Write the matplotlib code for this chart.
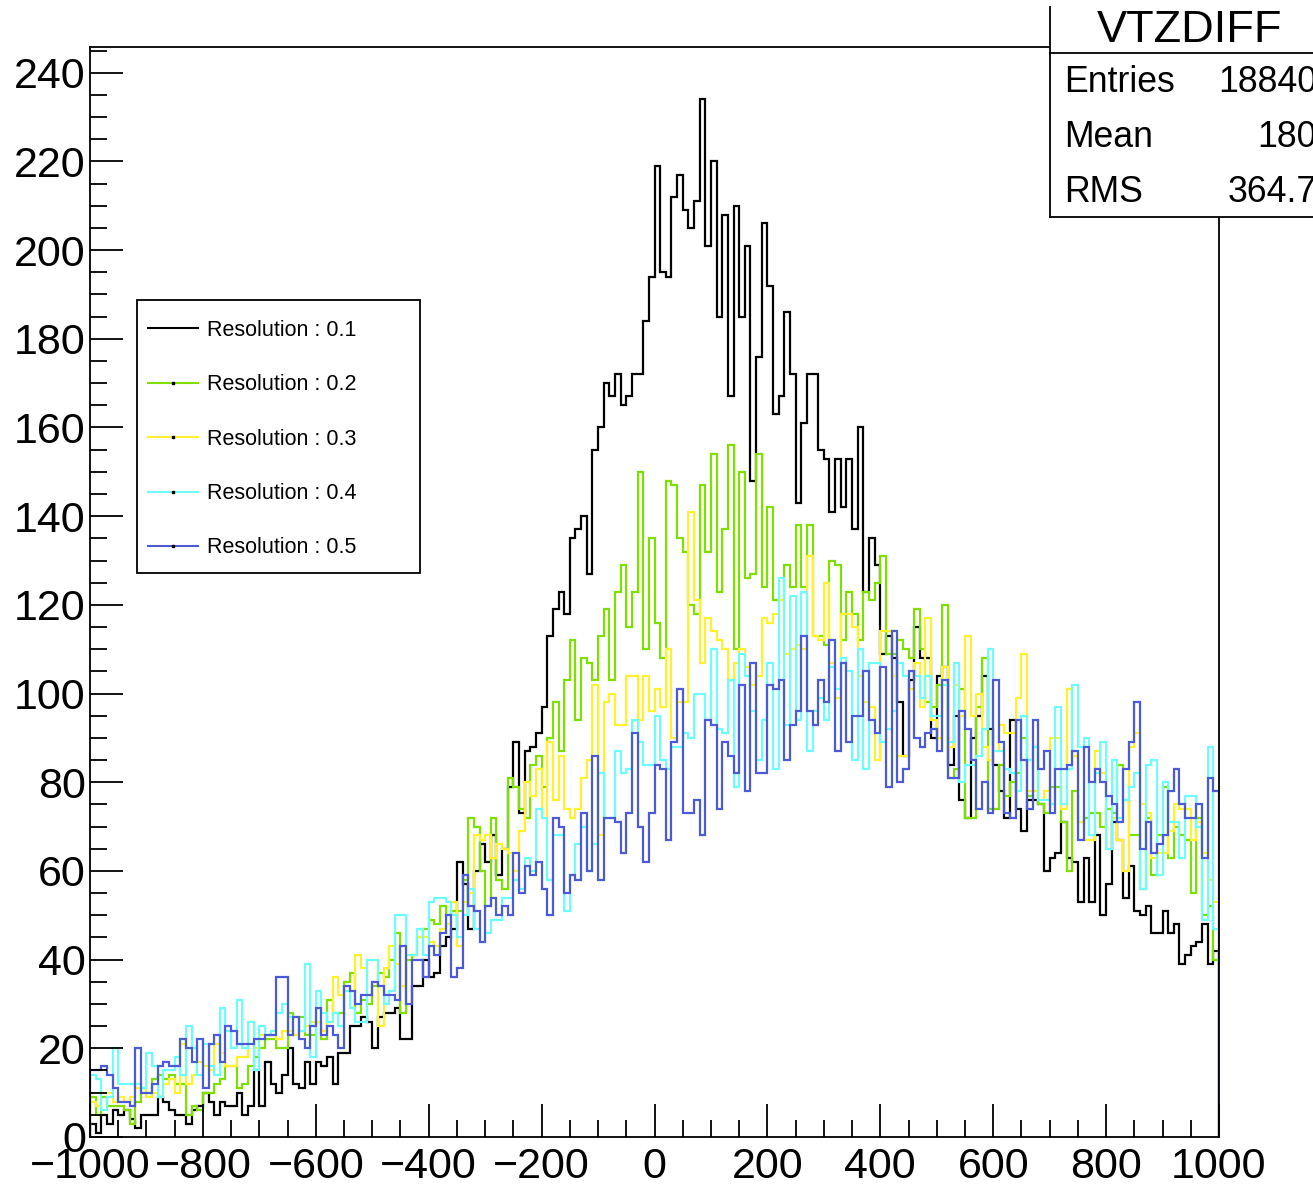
import numpy as np
import matplotlib
matplotlib.use("Agg")
import matplotlib.pyplot as plt
from matplotlib.lines import Line2D
from matplotlib.patches import Rectangle
from matplotlib.ticker import MultipleLocator

plt.rcParams['font.family'] = ['Liberation Sans', 'DejaVu Sans']

# 200 bins of VTZDIFF between -1000 and 1000
edges = np.linspace(-1000, 1000, 201)

res_01 = [3, 1, 5, 3, 6, 5, 6, 4, 2, 5,
          5, 5, 9, 8, 6, 5, 5, 3, 6, 7,
          10, 8, 5, 8, 7, 7, 10, 5, 7, 15,
          7, 17, 12, 10, 14, 20, 12, 11, 17, 12,
          17, 16, 18, 12, 19, 19, 25, 25, 27, 26,
          20, 27, 28, 28, 29, 22, 22, 34, 34, 40,
          36, 37, 43, 45, 47, 62, 57, 47, 60, 66,
          62, 68, 59, 65, 79, 89, 73, 87, 88, 91,
          97, 113, 119, 123, 118, 135, 137, 140, 127, 155,
          160, 170, 167, 172, 165, 167, 172, 172, 184, 194,
          219, 195, 194, 212, 217, 209, 205, 211, 234, 201,
          220, 185, 208, 167, 210, 185, 201, 148, 176, 206,
          192, 163, 167, 186, 172, 143, 161, 172, 172, 155,
          153, 141, 153, 142, 153, 137, 160, 123, 135, 129,
          109, 113, 108, 98, 86, 103, 115, 108, 108, 90,
          104, 106, 84, 95, 76, 72, 90, 95, 104, 92,
          84, 78, 72, 94, 74, 69, 76, 76, 75, 60,
          63, 64, 71, 63, 62, 53, 63, 53, 68, 50,
          57, 71, 67, 54, 61, 51, 50, 52, 46, 46,
          51, 46, 48, 39, 41, 43, 44, 48, 39, 42]

res_02 = [9, 5, 9, 7, 7, 7, 6, 3, 8, 11,
          10, 13, 14, 13, 14, 12, 12, 5, 7, 6,
          10, 10, 12, 13, 16, 16, 11, 12, 16, 18,
          20, 22, 22, 20, 20, 28, 23, 27, 23, 23,
          26, 22, 31, 28, 28, 35, 37, 28, 31, 30,
          34, 37, 36, 40, 46, 28, 40, 41, 45, 47,
          49, 48, 52, 50, 51, 51, 58, 72, 70, 60,
          52, 72, 58, 56, 81, 79, 74, 72, 84, 86,
          79, 90, 98, 87, 103, 112, 94, 108, 107, 103,
          113, 119, 103, 123, 129, 115, 123, 150, 110, 135,
          116, 108, 148, 147, 135, 132, 120, 118, 147, 132,
          154, 123, 137, 156, 110, 150, 126, 127, 154, 124,
          142, 121, 121, 129, 124, 138, 124, 138, 113, 113,
          111, 130, 129, 112, 123, 118, 112, 123, 121, 125,
          131, 109, 109, 112, 110, 108, 119, 110, 98, 97,
          102, 120, 81, 83, 101, 72, 72, 97, 108, 74,
          74, 84, 77, 80, 82, 90, 77, 88, 75, 73,
          79, 79, 71, 60, 78, 71, 72, 73, 73, 70,
          74, 73, 84, 76, 68, 68, 56, 72, 59, 68,
          79, 63, 70, 68, 67, 55, 72, 50, 52, 40]

res_03 = [8, 7, 10, 10, 8, 9, 8, 9, 11, 11,
          9, 10, 9, 12, 13, 10, 21, 12, 14, 17,
          16, 15, 21, 19, 16, 16, 18, 18, 26, 20,
          23, 23, 23, 22, 24, 24, 23, 24, 25, 26,
          26, 24, 26, 36, 32, 34, 33, 41, 38, 40,
          40, 25, 38, 43, 39, 34, 41, 41, 45, 45,
          44, 43, 47, 48, 53, 43, 53, 55, 68, 67,
          68, 63, 66, 65, 64, 60, 69, 80, 77, 83,
          72, 89, 76, 86, 74, 72, 74, 81, 85, 102,
          68, 98, 100, 93, 93, 104, 104, 94, 104, 96,
          101, 97, 110, 90, 98, 98, 141, 121, 107, 117,
          114, 112, 110, 103, 107, 110, 106, 102, 104, 117,
          116, 118, 121, 109, 110, 111, 110, 131, 113, 112,
          125, 107, 99, 118, 118, 115, 104, 98, 97, 85,
          114, 114, 104, 86, 86, 101, 107, 97, 117, 94,
          90, 106, 88, 102, 95, 113, 95, 100, 88, 85,
          87, 93, 91, 91, 99, 109, 78, 78, 76, 78,
          90, 90, 74, 101, 86, 71, 67, 67, 87, 82,
          65, 72, 67, 60, 88, 91, 75, 73, 63, 64,
          64, 69, 75, 74, 74, 67, 71, 64, 58, 53]

res_04 = [14, 13, 6, 9, 20, 12, 12, 12, 12, 11,
          19, 16, 9, 15, 15, 18, 14, 25, 20, 14,
          21, 16, 14, 29, 24, 20, 31, 20, 26, 15,
          25, 23, 24, 28, 30, 27, 27, 24, 39, 18,
          33, 28, 26, 28, 25, 33, 29, 26, 26, 40,
          40, 34, 30, 33, 50, 50, 41, 41, 47, 41,
          53, 54, 54, 53, 50, 45, 50, 56, 47, 44,
          46, 49, 49, 54, 54, 58, 56, 63, 60, 74,
          72, 58, 68, 68, 51, 59, 66, 70, 60, 66,
          82, 72, 72, 87, 82, 83, 94, 89, 84, 84,
          95, 85, 83, 88, 88, 91, 90, 100, 100, 94,
          110, 92, 91, 103, 79, 109, 104, 96, 85, 94,
          107, 83, 126, 93, 122, 94, 123, 87, 96, 99,
          94, 106, 101, 108, 105, 85, 110, 83, 107, 107,
          89, 92, 96, 107, 104, 105, 104, 99, 104, 95,
          95, 102, 89, 107, 80, 84, 84, 86, 92, 110,
          87, 87, 83, 82, 78, 95, 85, 88, 76, 76,
          75, 97, 75, 83, 102, 88, 90, 68, 82, 89,
          65, 85, 72, 76, 79, 82, 56, 84, 85, 59,
          80, 71, 71, 63, 77, 77, 70, 49, 88, 47]

res_05 = [15, 15, 16, 14, 11, 8, 8, 7, 20, 10,
          10, 12, 16, 17, 16, 16, 22, 20, 17, 22,
          11, 21, 23, 17, 25, 24, 21, 21, 21, 22,
          22, 23, 23, 36, 36, 23, 27, 22, 20, 25,
          29, 23, 25, 23, 20, 34, 33, 30, 32, 32,
          35, 34, 32, 32, 31, 43, 30, 40, 40, 36,
          43, 41, 46, 50, 36, 38, 59, 52, 51, 44,
          52, 54, 50, 52, 50, 64, 55, 61, 59, 62,
          56, 50, 72, 70, 55, 59, 58, 73, 60, 86,
          58, 72, 72, 71, 64, 73, 91, 70, 62, 73,
          84, 83, 67, 89, 101, 73, 73, 76, 68, 94,
          93, 74, 89, 86, 82, 102, 78, 107, 82, 82,
          102, 101, 103, 85, 93, 96, 113, 96, 93, 103,
          98, 112, 87, 107, 89, 95, 95, 105, 94, 91,
          106, 79, 114, 80, 83, 105, 90, 88, 91, 92,
          87, 103, 81, 81, 96, 92, 85, 74, 80, 73,
          103, 89, 73, 72, 94, 85, 74, 94, 83, 87,
          73, 83, 83, 84, 87, 67, 88, 80, 83, 80,
          77, 75, 71, 83, 89, 98, 65, 71, 64, 66,
          68, 78, 83, 75, 72, 72, 75, 63, 81, 78]

series = [res_01, res_02, res_03, res_04, res_05]
labels = ["Resolution : 0.1", "Resolution : 0.2", "Resolution : 0.3",
          "Resolution : 0.4", "Resolution : 0.5"]
colors = ["black", "#7fe000", "#fff12e", "#6ffcfc", "#4b5bd6"]

stat_names = ["Entries", "Mean", "RMS"]
stat_values = ["18840", "180", "364.7"]

W, H = 1313, 1187
fig = plt.figure(figsize=(W / 100, H / 100), dpi=100)
ax = fig.add_axes([90 / W, 1 - 1137 / H, (1219 - 90) / W, (1137 - 47) / H])

for vals, c in zip(series, colors):
    ax.stairs(vals, edges, color=c, lw=1.6)

ax.set_xlim(-1000, 1000)
ax.set_ylim(0, 245.8)
ax.xaxis.set_major_locator(MultipleLocator(200))
ax.xaxis.set_minor_locator(MultipleLocator(50))
ax.yaxis.set_major_locator(MultipleLocator(20))
ax.yaxis.set_minor_locator(MultipleLocator(5))
ax.tick_params(which='both', direction='in', top=False, right=False,
               labelsize=31, width=1.3)
ax.tick_params(which='major', length=24)
ax.tick_params(which='minor', length=12.5)
ax.tick_params(axis='x', pad=7)
ax.tick_params(axis='y', pad=3)
for s in ax.spines.values():
    s.set_linewidth(1.3)

# legend: coloured lines carry a small black point in the middle
handles = []
for i, c in enumerate(colors):
    if i == 0:
        handles.append(Line2D([], [], color=c, lw=1.5))
    else:
        handles.append(Line2D([], [], color=c, lw=1.5, marker='s', ms=1.6,
                              mfc='black', mec='black'))
fig.legend(handles, labels, loc='upper left', numpoints=1,
           bbox_to_anchor=(148 / W, 1 - 320 / H), frameon=False,
           fontsize=15.5, handlelength=2.3, handletextpad=0.45,
           labelspacing=1.55, borderpad=0, borderaxespad=0)
fig.add_artist(Rectangle((137 / W, 1 - 573 / H), (420 - 137) / W, (573 - 300) / H,
                         transform=fig.transFigure, fill=False, ec='black', lw=1.3))

# stats box
bx = 1050 / W
fig.add_artist(Rectangle((bx, 1 - 217 / H), 1.1 - bx, (217 - 7) / H,
                         transform=fig.transFigure, fc='white', ec='none'))
for xs, ys in [([bx, bx], [1 - 7 / H, 1 - 217 / H]),
               ([bx, 1.1], [1 - 53 / H, 1 - 53 / H]),
               ([bx, 1.1], [1 - 217 / H, 1 - 217 / H])]:
    fig.add_artist(Line2D(xs, ys, transform=fig.transFigure, color='black', lw=1.3))
fig.text(1190 / W, 1 - 30 / H, "VTZDIFF", ha='center', va='center', fontsize=32.5)
for i, (name, val) in enumerate(zip(stat_names, stat_values)):
    yy = 1 - (83 + 54.5 * i) / H
    fig.text(1064 / W, yy, name, ha='left', va='center', fontsize=25.7)
    fig.text(1317 / W, yy, val, ha='right', va='center', fontsize=25.7)

fig.savefig("out.png", dpi=100)
